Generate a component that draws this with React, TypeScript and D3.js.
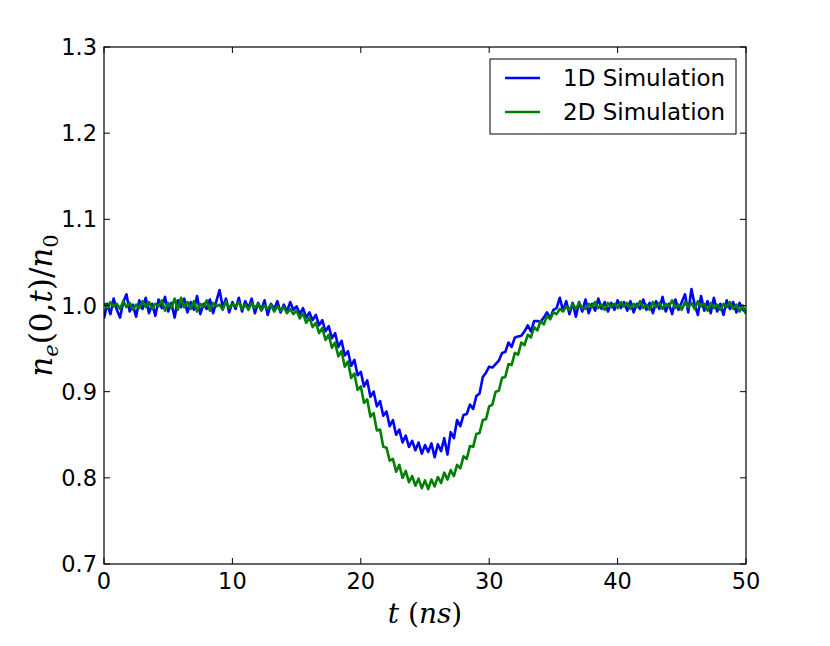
import { useEffect, useRef } from 'react';
import * as d3 from 'd3';

// sampling step of both simulations (ns)
const T_STEP = 0.25;

// 1D simulation, n_e(0,t)/n_0, t = 0 .. 50 ns
const sim1D = [
  0.985, 1.002, 0.990, 1.008, 0.995, 0.986, 1.004, 1.013, 0.993, 1.001,
  0.987, 1.006, 0.996, 1.009, 0.991, 1.002, 0.988, 1.007, 0.997, 1.010,
  0.993, 1.003, 0.986, 1.006, 0.998, 1.008, 0.992, 1.004, 0.995, 1.011,
  0.990, 1.002, 0.996, 1.007, 0.991, 1.005, 1.018, 0.998, 1.008, 0.992,
  1.004, 0.996, 1.009, 0.993, 1.005, 0.997, 1.008, 0.991, 1.003, 0.995,
  1.006, 0.989, 1.002, 0.996, 1.005, 0.992, 1.001, 0.993, 1.004, 0.995,
  0.999, 0.990, 0.997, 0.986, 0.992, 0.983, 0.989, 0.977, 0.983, 0.970,
  0.976, 0.962, 0.968, 0.952, 0.959, 0.942, 0.947, 0.930, 0.937, 0.919,
  0.923, 0.906, 0.913, 0.894, 0.900, 0.883, 0.889, 0.872, 0.877, 0.860,
  0.867, 0.850, 0.856, 0.841, 0.849, 0.836, 0.843, 0.832, 0.841, 0.828,
  0.838, 0.830, 0.840, 0.824, 0.839, 0.831, 0.846, 0.827, 0.853, 0.846,
  0.867, 0.860, 0.873, 0.874, 0.885, 0.880, 0.895, 0.898, 0.917, 0.922,
  0.929, 0.928, 0.932, 0.936, 0.945, 0.946, 0.957, 0.952, 0.963, 0.964,
  0.965, 0.970, 0.977, 0.970, 0.982, 0.982, 0.981, 0.986, 0.992, 0.985,
  0.995, 0.997, 1.009, 0.994, 1.005, 0.990, 1.003, 0.987, 1.004, 0.993,
  1.007, 0.991, 1.002, 0.994, 1.008, 0.996, 1.004, 0.993, 1.003, 0.995,
  1.006, 0.997, 1.004, 0.994, 1.005, 0.992, 1.002, 0.996, 1.007, 0.995,
  1.003, 0.991, 1.005, 0.996, 1.010, 0.993, 1.002, 0.990, 1.007, 0.995,
  1.004, 1.013, 0.992, 1.019, 1.001, 0.989, 1.011, 0.994, 1.005, 0.991,
  1.009, 0.993, 1.002, 0.989, 1.006, 0.996, 1.004, 0.992, 1.003, 0.995,
  0.992,
];

// 2D simulation
const sim2D = [
  1.003, 0.997, 1.004, 0.999, 1.002, 0.996, 1.005, 0.998, 1.003, 0.995,
  1.001, 0.997, 1.005, 0.998, 1.004, 0.996, 1.002, 0.999, 1.006, 0.994,
  1.003, 0.997, 1.008, 0.995, 1.009, 0.998, 1.004, 0.996, 1.005, 0.993,
  1.002, 0.998, 1.006, 0.994, 1.003, 0.999, 1.001, 0.995, 1.005, 0.997,
  1.002, 0.999, 1.004, 0.996, 1.001, 0.995, 1.003, 0.997, 1.002, 0.994,
  1.000, 0.996, 1.001, 0.993, 0.999, 0.994, 0.998, 0.991, 0.996, 0.990,
  0.994, 0.985, 0.991, 0.980, 0.986, 0.975, 0.980, 0.968, 0.974, 0.960,
  0.966, 0.951, 0.957, 0.941, 0.947, 0.929, 0.935, 0.916, 0.921, 0.902,
  0.906, 0.887, 0.891, 0.871, 0.875, 0.855, 0.856, 0.836, 0.835, 0.820,
  0.822, 0.807, 0.815, 0.800, 0.808, 0.795, 0.802, 0.791, 0.799, 0.788,
  0.797, 0.787, 0.798, 0.790, 0.801, 0.794, 0.806, 0.798, 0.809, 0.802,
  0.815, 0.811, 0.825, 0.822, 0.837, 0.836, 0.851, 0.852, 0.867, 0.868,
  0.883, 0.885, 0.900, 0.901, 0.916, 0.917, 0.932, 0.931, 0.945, 0.943,
  0.957, 0.954, 0.966, 0.963, 0.975, 0.971, 0.982, 0.978, 0.988, 0.984,
  0.992, 0.990, 0.996, 0.993, 0.999, 0.995, 1.002, 0.996, 1.003, 0.997,
  0.996, 1.002, 0.998, 1.004, 0.997, 1.001, 0.995, 1.003, 0.998, 1.002,
  0.997, 1.004, 0.999, 1.003, 0.996, 1.002, 0.998, 1.005, 0.997, 1.001,
  0.995, 1.004, 0.998, 1.003, 0.996, 1.002, 0.999, 1.006, 0.997, 1.001,
  0.995, 1.004, 0.998, 1.003, 0.996, 1.005, 0.999, 1.002, 0.994, 1.003,
  0.997, 1.001, 0.995, 1.002, 0.998, 1.004, 0.996, 1.001, 0.993, 1.000,
  0.990,
];

const xTicks = [0, 10, 20, 30, 40, 50];
const yTicks = [0.7, 0.8, 0.9, 1.0, 1.1, 1.2, 1.3];

const series = [
  { name: '1D Simulation', values: sim1D, color: '#0000ff' },
  { name: '2D Simulation', values: sim2D, color: '#008000' },
];

const W = 830, H = 646;
const M = { left: 104, right: 746, top: 47, bottom: 564 };

export default function App() {
  const svgRef = useRef<SVGSVGElement>(null);

  useEffect(() => {
    if (!svgRef.current) return;
    const svg = d3.select(svgRef.current);
    svg.selectAll('*').remove();

    const x = d3.scaleLinear().domain([0, 50]).range([M.left, M.right]);
    const y = d3.scaleLinear().domain([0.7, 1.3]).range([M.bottom, M.top]);

    svg.append('defs').append('clipPath').attr('id', 'plotClip')
      .append('rect').attr('x', M.left).attr('y', M.top)
      .attr('width', M.right - M.left).attr('height', M.bottom - M.top);

    // data lines
    const line = d3.line<number>().x((_, i) => x(i * T_STEP)).y(d => y(d));
    const g = svg.append('g').attr('clip-path', 'url(#plotClip)');
    series.forEach(s => {
      g.append('path').datum(s.values).attr('d', line)
        .attr('fill', 'none').attr('stroke', s.color).attr('stroke-width', 2.6)
        .attr('stroke-linejoin', 'round');
    });

    // frame
    svg.append('rect').attr('x', M.left).attr('y', M.top)
      .attr('width', M.right - M.left).attr('height', M.bottom - M.top)
      .attr('fill', 'none').attr('stroke', '#000').attr('stroke-width', 1.2);

    const tl = 6;
    const font = 'DejaVu Sans';
    xTicks.forEach(t => {
      const px = x(t);
      svg.append('line').attr('x1', px).attr('x2', px).attr('y1', M.bottom).attr('y2', M.bottom - tl).attr('stroke', '#000');
      svg.append('line').attr('x1', px).attr('x2', px).attr('y1', M.top).attr('y2', M.top + tl).attr('stroke', '#000');
      svg.append('text').attr('x', px).attr('y', M.bottom + 25).attr('text-anchor', 'middle')
        .attr('font-family', font).attr('font-size', 22.5).text(String(t));
    });
    yTicks.forEach(t => {
      const py = y(t);
      svg.append('line').attr('x1', M.left).attr('x2', M.left + tl).attr('y1', py).attr('y2', py).attr('stroke', '#000');
      svg.append('line').attr('x1', M.right).attr('x2', M.right - tl).attr('y1', py).attr('y2', py).attr('stroke', '#000');
      svg.append('text').attr('x', M.left - 7).attr('y', py + 8).attr('text-anchor', 'end')
        .attr('font-family', font).attr('font-size', 22.5).text(t.toFixed(1));
    });

    // axis labels (math style)
    const serif = 'DejaVu Serif';
    const xl = svg.append('text').attr('x', (M.left + M.right) / 2).attr('y', 623)
      .attr('text-anchor', 'middle').attr('font-family', serif).attr('font-size', 28);
    xl.append('tspan').attr('font-style', 'italic').text('t');
    xl.append('tspan').text(' (');
    xl.append('tspan').attr('font-style', 'italic').text('ns');
    xl.append('tspan').text(')');

    const yl = svg.append('text').attr('transform', `translate(52,${(M.top + M.bottom) / 2}) rotate(-90)`)
      .attr('text-anchor', 'middle').attr('font-family', serif).attr('font-size', 31);
    yl.append('tspan').attr('font-style', 'italic').text('n');
    yl.append('tspan').attr('font-style', 'italic').attr('font-size', 21).attr('dy', 6).text('e');
    yl.append('tspan').attr('dy', -6).text('(0,');
    yl.append('tspan').attr('font-style', 'italic').text('t');
    yl.append('tspan').text(')/');
    yl.append('tspan').attr('font-style', 'italic').text('n');
    yl.append('tspan').attr('font-size', 21).attr('dy', 6).text('0');

    // legend
    const lg = svg.append('g');
    lg.append('rect').attr('x', 490).attr('y', 59).attr('width', 246).attr('height', 75)
      .attr('fill', '#fff').attr('stroke', '#000').attr('stroke-width', 1);
    series.forEach((s, i) => {
      const ly = 78 + i * 34;
      lg.append('line').attr('x1', 505).attr('x2', 540).attr('y1', ly).attr('y2', ly)
        .attr('stroke', s.color).attr('stroke-width', 2.6);
      lg.append('text').attr('x', 563).attr('y', ly + 8).attr('font-family', font).attr('font-size', 23).text(s.name);
    });
  }, []);

  return (
    <svg ref={svgRef} width={W} height={H} viewBox={`0 0 ${W} ${H}`}
      style={{ position: 'absolute', left: 0, top: 0, background: '#fff' }} />
  );
}
